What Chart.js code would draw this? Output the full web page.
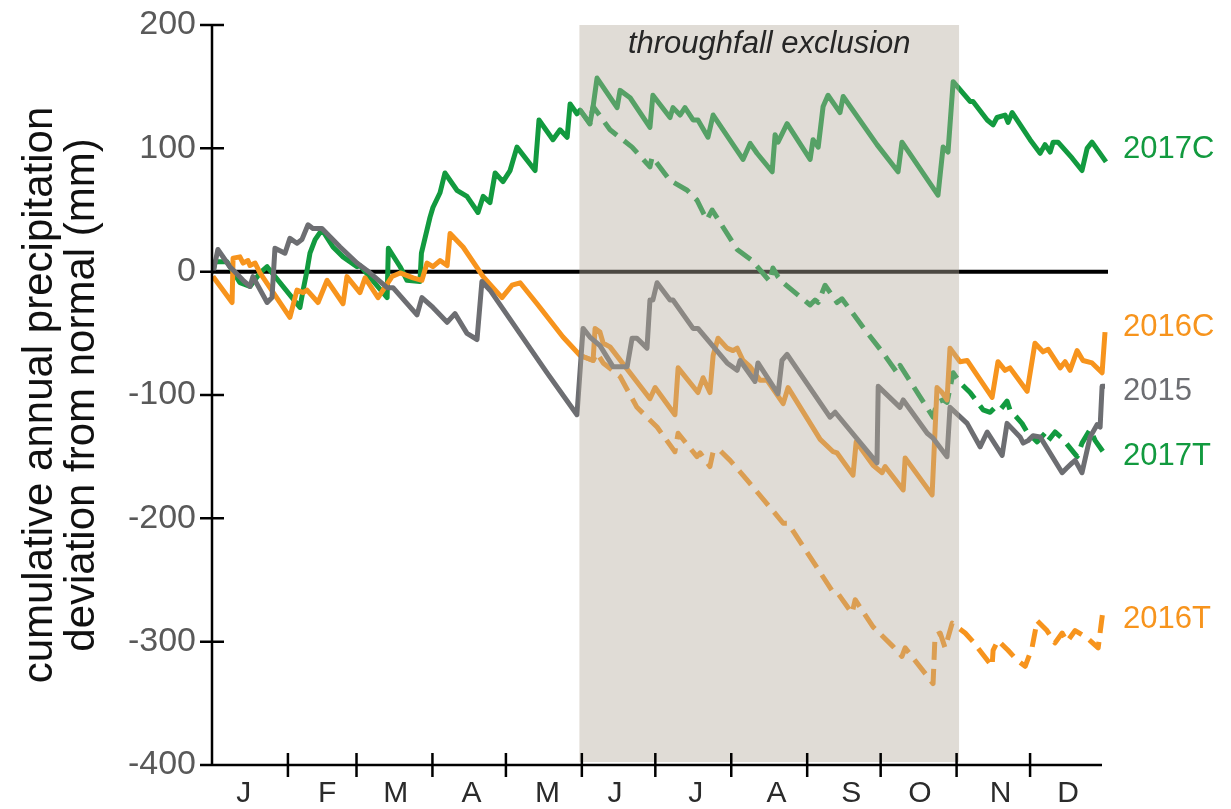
<!DOCTYPE html>
<html>
<head>
<meta charset="utf-8">
<script src="https://cdn.jsdelivr.net/npm/chart.js@4.4.1/dist/chart.umd.min.js"></script>
<style>
  html, body { margin: 0; padding: 0; background: #ffffff; }
  #wrap { width: 1231px; height: 809px; position: relative; }
</style>
</head>
<body>
<div id="wrap"><canvas id="c" width="1231" height="809"></canvas></div>
<script>
// ---- data (day of year, deviation in mm) ----
const monthLabels = ['J','F','M','A','M','J','J','A','S','O','N','D'];
const monthLabelDays = [13, 47, 75, 106, 137, 164.5, 197.5, 230.5, 261, 289, 322, 349.5];
const monthStartDays = [31, 59, 90, 120, 151, 181, 212, 243, 273, 304, 334];
const yTicks = [200, 100, 0, -100, -200, -300, -400];
const exclusionDays = [150, 305];

const s2015 = [[0.4,-1],[2.4,18],[7.3,4],[12.7,-7],[15.5,-12],[16.7,-4],[22.5,-25],[24.5,-21],[25.7,19],[29.8,15],[31.8,27],[34.7,23],[36.7,26],[39.2,38],[41.2,35],[44.9,35],[52.3,20],[59.2,7],[63.3,1],[71.5,-13],[73.9,-13],[83.7,-35],[85.7,-21],[90.2,-29],[96,-41],[99.2,-34],[104.1,-50],[108.2,-55],[110.2,-8],[113.5,-15],[136.8,-82],[149,-116],[151.5,-46],[154.3,-53],[158.4,-60],[163.7,-77],[169.5,-77],[171.5,-54],[173.5,-54],[177.6,-62],[178.8,-23],[180,-23],[181.7,-9],[187,-23],[188.2,-23],[196.4,-46],[198.4,-46],[210.3,-74],[214.4,-80],[215.6,-72],[221.7,-89],[222.9,-74],[231.1,-99],[232.7,-72],[234.8,-67],[252.3,-118],[254.4,-114],[271.5,-155],[272,-93],[280.9,-110],[282.2,-104],[292,-131],[294.4,-135],[300.1,-150],[301.3,-110],[308.3,-123],[313.6,-142],[316.5,-130],[322.6,-149],[324.6,-123],[329.9,-134],[331.2,-139],[333.2,-137],[335.2,-133],[338.1,-134],[347.1,-163],[349.1,-159],[351.2,-155],[352.4,-153],[355.2,-163],[358.5,-134],[361.4,-124],[362.6,-126],[363.4,-93],[364.6,-93]];

const s2016C = [[0.4,-4],[8.2,-25],[8.6,11],[11.4,12],[12.7,7],[14.7,9],[15.5,5],[17.6,7],[19.6,-1],[31.8,-37],[34.7,-15],[37.2,-17],[38.8,-15],[43.3,-25],[47,-7],[53.5,-26],[55.1,-4],[60.4,-17],[62.5,-5],[67.8,-21],[73.5,-4],[76.8,-1],[82.1,-5],[85.7,-7],[87.8,7],[90.2,4],[93.1,9],[96,5],[97.2,31],[102.5,20],[110.7,-4],[114.7,-13],[118.4,-21],[122.5,-11],[125.8,-9],[132.7,-26],[133.9,-29],[143.3,-53],[150.3,-68],[155.6,-72],[156.4,-46],[158.4,-49],[159.7,-58],[162.5,-61],[178.8,-103],[180.9,-94],[189,-116],[190.3,-78],[198.4,-98],[200.5,-86],[203.3,-98],[204.6,-68],[206.6,-54],[210.3,-62],[212.7,-64],[214.4,-62],[216.8,-72],[219.7,-77],[223.8,-88],[226.6,-88],[233.2,-107],[235.2,-94],[248.3,-136],[253.6,-146],[255.2,-147],[261.7,-165],[263,-138],[269.9,-157],[273.6,-163],[274.8,-158],[282.2,-177],[283,-151],[294,-181],[296,-94],[298.1,-98],[300.1,-104],[301.3,-62],[305.4,-73],[308.3,-72],[318.5,-102],[320.9,-73],[323.8,-80],[325.8,-78],[332.8,-97],[336,-58],[339.3,-65],[341.4,-63],[346.3,-78],[348.3,-73],[350.3,-80],[353.2,-64],[355.6,-72],[359.3,-74],[363.4,-82],[364.6,-49]];

const s2016T = [[150.3,-68],[155.6,-72],[157.2,-66],[159.7,-74],[166.6,-85],[173.5,-110],[181.7,-126],[189,-146],[190.3,-131],[198,-150],[199.3,-147],[203.3,-158],[204.6,-146],[207.4,-145],[211.5,-153],[218.5,-169],[227.8,-191],[233.2,-204],[235.2,-204],[253.6,-260],[255.6,-261],[261.3,-277],[262.6,-266],[269.9,-288],[278.1,-304],[281.7,-312],[283,-305],[294.4,-334],[295.2,-295],[297.3,-293],[299.3,-305],[302.2,-285],[307.5,-293],[310.7,-300],[318.5,-320],[318.9,-307],[320.9,-299],[325,-307],[328.7,-315],[332,-320],[334.8,-305],[336.9,-283],[340.9,-291],[344.2,-301],[347.1,-293],[349.1,-300],[352.4,-291],[357.3,-297],[361.8,-305],[363.8,-274]];

const s2017C = [[0.4,-1],[1.2,8],[6.1,8],[11.4,-9],[15.5,-12],[19.6,-1],[22.5,4],[35.9,-29],[37.2,-15],[38.8,1],[40,15],[42.1,26],[44.9,34],[49.4,20],[53.5,12],[59.2,4],[60.4,5],[71.5,-21],[72,19],[76.8,4],[79.6,-7],[84.9,-8],[85.5,15],[89,44],[90.2,52],[93.1,64],[95.1,80],[100,66],[104.1,61],[108.6,48],[110.7,61],[113.5,56],[115.6,80],[118.8,73],[121.7,82],[124.5,101],[131.9,82],[133.5,123],[139.2,107],[142.1,115],[145,109],[146.2,136],[149,128],[150.3,131],[154.3,120],[155.6,134],[157.2,157],[165.4,133],[166.6,147],[170.7,141],[178.8,117],[180,143],[187,125],[188.2,133],[191.1,127],[193.1,133],[196.4,123],[198.4,123],[202.5,109],[204.6,127],[216.8,91],[219.7,104],[222.5,96],[228.7,81],[229.9,111],[231.1,105],[234.8,120],[244.2,91],[245.4,107],[247.5,101],[249.5,134],[251.5,143],[256.4,129],[257.7,142],[271.5,103],[280.1,81],[281.7,105],[296.4,62],[298.5,101],[300.5,97],[302.6,154],[309.5,138],[310.7,138],[316.5,123],[318.9,119],[320.5,125],[323.8,127],[325,121],[326.7,129],[334,107],[338.1,96],[340.1,103],[342.2,97],[343.4,105],[345.4,105],[351.2,92],[355.2,82],[357.3,100],[359.3,105],[365,89]];

const s2017T = [[150.3,131],[154.3,120],[155.6,134],[162.5,115],[171.5,101],[178.8,85],[179.7,93],[187,74],[194,66],[198,58],[202,42],[204.2,50],[214.4,18],[220.5,9],[227.8,-8],[229,3],[231,-4],[233.2,-9],[244.2,-27],[246.2,-23],[247.5,-25],[250.3,-11],[255.2,-25],[257.2,-22],[265.8,-45],[274,-66],[279.7,-82],[280.9,-76],[294.4,-118],[296,-106],[298.5,-104],[300.1,-106],[302.6,-82],[305.4,-90],[309.5,-98],[314.8,-112],[317.7,-114],[319.7,-110],[321.8,-112],[324.6,-105],[325.8,-112],[330.7,-123],[332.8,-130],[336.9,-138],[340.1,-131],[341.4,-137],[344.2,-130],[347.1,-135],[353.2,-150],[355.2,-139],[358.5,-128],[360.6,-137],[363.8,-146]];

const seriesNames = ['2015','2016C','2016T','2017T','2017C'];
const seriesLabelValues = [-97.5, -45, -282, -150, 99];
// ---- styles ----
const GRAY = '#6d6e72', ORANGE = '#f7941d', GREEN = '#129a3f';
const FONT = '"Liberation Sans", Arial, sans-serif';

function toXY(arr){ return arr.map(p => ({x: p[0], y: p[1]})); }

const datasets = [
  {label:'2015', data: toXY(s2015), borderColor: GRAY, borderWidth: 5},
  {label:'2016C', data: toXY(s2016C), borderColor: ORANGE, borderWidth: 5},
  {label:'2016T', data: toXY(s2016T), borderColor: ORANGE, borderWidth: 5, borderDash:[18,9]},
  {label:'2017T', data: toXY(s2017T), borderColor: GREEN, borderWidth: 5, borderDash:[18,9]},
  {label:'2017C', data: toXY(s2017C), borderColor: GREEN, borderWidth: 5}
].map(d => Object.assign({pointRadius:0, tension:0, fill:false, clip:false, borderJoinStyle:'round'}, d));
const labelColors = {'2015':GRAY,'2016C':ORANGE,'2016T':ORANGE,'2017T':GREEN,'2017C':GREEN};

const decor = {
  id: 'decor',
  beforeDatasetsDraw(chart){
    const {ctx, chartArea:a, scales:{x,y}} = chart;
    const y0 = y.getPixelForValue(0);
    ctx.save();
    ctx.strokeStyle = '#000';
    ctx.lineWidth = 4;
    ctx.beginPath(); ctx.moveTo(a.left, y0); ctx.lineTo(a.right + 2, y0); ctx.stroke();
    ctx.restore();
  },
  afterDatasetsDraw(chart){
    const {ctx, chartArea:a, scales:{x,y}} = chart;
    const x1 = x.getPixelForValue(exclusionDays[0]);
    const x2 = x.getPixelForValue(exclusionDays[1]);
    ctx.save();
    // translucent shading over lines
    ctx.fillStyle = 'rgba(181,172,157,0.42)';
    ctx.fillRect(x1, a.top, x2 - x1, a.bottom - a.top - 3);
    // caption
    ctx.fillStyle = '#262626';
    ctx.font = 'italic 31px ' + FONT;
    ctx.textAlign = 'center'; ctx.textBaseline = 'middle';
    ctx.fillText('throughfall exclusion', (x1 + x2) / 2, a.top + 19);
    // axes
    ctx.strokeStyle = '#000'; ctx.lineWidth = 2.5;
    ctx.beginPath();
    ctx.moveTo(a.left, y.getPixelForValue(200)); ctx.lineTo(a.left, a.bottom);
    ctx.moveTo(a.left - 12, a.bottom); ctx.lineTo(a.right - 4, a.bottom);
    yTicks.forEach(v => { const py = y.getPixelForValue(v); ctx.moveTo(a.left - 12, py); ctx.lineTo(a.left + 12, py); });
    monthStartDays.forEach(d => { const px = x.getPixelForValue(d); ctx.moveTo(px, a.bottom - 12); ctx.lineTo(px, a.bottom + 12); });
    ctx.stroke();
    // series labels
    ctx.font = '31px ' + FONT;
    ctx.textAlign = 'left'; ctx.textBaseline = 'middle';
    seriesNames.forEach((n, i) => {
      ctx.fillStyle = labelColors[n];
      ctx.fillText(n, a.right + 17, y.getPixelForValue(seriesLabelValues[i]));
    });
    ctx.restore();
  }
};

new Chart(document.getElementById('c'), {
  type: 'line',
  data: { datasets },
  plugins: [decor],
  options: {
    responsive: false,
    animation: false,
    devicePixelRatio: 1,
    layout: { padding: { left: 0, right: 125, top: 25, bottom: 0 } },
    plugins: { legend: {display:false}, tooltip: {enabled:false} },
    scales: {
      x: {
        type: 'linear', min: 0, max: 365,
        grid: { display: false, drawTicks: false, tickLength: 0 },
        border: { display: false },
        afterBuildTicks: s => { s.ticks = monthLabelDays.map(v => ({value: v})); },
        afterFit: s => { s.height = 44; s.paddingLeft = 0; s.paddingRight = 0; },
        ticks: {
          autoSkip: false, maxRotation: 0, padding: 11,
          color: '#2b2b2b', font: { family: FONT, size: 30 },
          callback: (v, i) => monthLabels[i]
        }
      },
      y: {
        type: 'linear', min: -400, max: 200,
        grid: { display: false, drawTicks: false, tickLength: 0 },
        border: { display: false },
        afterBuildTicks: s => { s.ticks = yTicks.map(v => ({value: v})); },
        afterFit: s => { s.width = 212; s.paddingTop = 0; s.paddingBottom = 0; },
        ticks: { padding: 16, color: '#595959', font: { family: FONT, size: 34 } },
        title: {
          display: true,
          text: ['cumulative annual precipitation', 'deviation from normal (mm)'],
          color: '#111', font: { family: FONT, size: 42, lineHeight: 1.0 },
          padding: { top: 19, bottom: 0 }
        }
      }
    }
  }
});
</script>
</body>
</html>
